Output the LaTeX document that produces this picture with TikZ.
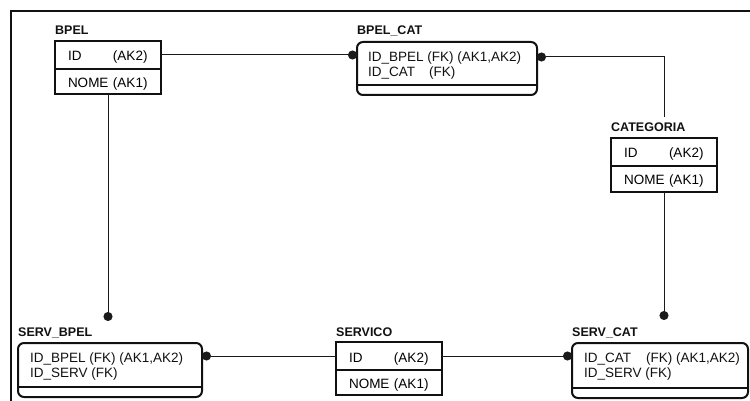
\documentclass[tikz,border=0pt]{standalone}
\usepackage{fontspec}
\setmainfont{Liberation Sans}
\usetikzlibrary{arrows.meta,calc,positioning}
\definecolor{ink}{HTML}{111111}
\definecolor{wire}{HTML}{1A1A1A}
\newcommand\fieldfont{\fontsize{13.5}{15}\selectfont}
\newcommand\titlefont{\fontsize{12.5}{14}\selectfont\bfseries}
\tikzset{
  entrow/.style={draw=ink,line width=2pt,rectangle,outer sep=0pt,inner xsep=13pt,inner ysep=0pt,text width=80pt,text height=12pt,text depth=0pt,align=left,minimum width=106pt,font=\fieldfont,anchor=north west},
  assocbox/.style={draw=ink,line width=2pt,rounded corners=6pt,outer sep=0pt,inner sep=0pt,anchor=north west},
  fieldtxt/.style={inner sep=0pt,align=left,font=\fieldfont,anchor=north west,text=ink},
  titletxt/.style={inner sep=0pt,font=\titlefont,anchor=base west,text=ink},
  wireline/.style={draw=wire,line width=1pt},
  dotend/.style={wireline,-{Circle[length=9pt,width=9pt]}},
  dotstart/.style={wireline,{Circle[length=9pt,width=9pt]}-}
}
\begin{document}
\begin{tikzpicture}[x=1pt,y=-1pt]
  \useasboundingbox (0,0) rectangle (750,401);
  % frame
  \draw[ink,line width=2pt] (10.5,401) |- (750,11);

  % BPEL
  \node[entrow,minimum height=28pt] (bpelid) at (55,41) {\makebox[45pt][l]{ID}(AK2)};
  \node[entrow,minimum height=25pt,below=0pt of bpelid] (bpelnome) {NOME (AK1)};
  \node[titletxt] (bpeltitle) at ($(bpelid.north west)+(0,-6)$) {BPEL};

  % CATEGORIA
  \node[entrow,minimum height=28pt] (catid) at (611,138) {\makebox[45pt][l]{ID}(AK2)};
  \node[entrow,minimum height=26pt,below=0pt of catid] (catnome) {NOME (AK1)};
  \node[titletxt] (cattitle) at ($(catid.north west)+(0,-6)$) {CATEGORIA};

  % SERVICO
  \node[entrow,minimum height=28pt] (servid) at (336,342) {\makebox[45pt][l]{ID}(AK2)};
  \node[entrow,minimum height=25pt,below=0pt of servid] (servnome) {NOME (AK1)};
  \node[titletxt] (servtitle) at ($(servid.north west)+(0,-6)$) {SERVICO};

  % BPEL_CAT
  \node[assocbox,minimum width=180pt,minimum height=53pt] (bpelcat) at (357,42) {};
  \node[fieldtxt] (bpelcattxt) at ($(bpelcat.north west)+(11,10)$)
    {ID\_BPEL (FK) (AK1,AK2)\\\makebox[61pt][l]{ID\_CAT}(FK)};
  \draw[ink,line width=1.5pt] ($(bpelcat.south west)+(0,-10)$) -- ($(bpelcat.south east)+(0,-10)$);
  \node[titletxt] (bpelcattitle) at ($(bpelcat.north west)+(0,-7)$) {BPEL\_CAT};

  % SERV_BPEL
  \node[assocbox,minimum width=184pt,minimum height=54pt] (servbpel) at (18,343) {};
  \node[fieldtxt] (servbpeltxt) at ($(servbpel.north west)+(12,10)$)
    {ID\_BPEL (FK) (AK1,AK2)\\ID\_SERV (FK)};
  \draw[ink,line width=1.5pt] ($(servbpel.south west)+(0,-10)$) -- ($(servbpel.south east)+(0,-10)$);
  \node[titletxt] (servbpeltitle) at ($(servbpel.north west)+(0,-7)$) {SERV\_BPEL};

  % SERV_CAT
  \node[assocbox,minimum width=176pt,minimum height=55pt] (servcat) at (572,343) {};
  \node[fieldtxt] (servcattxt) at ($(servcat.north west)+(12,10)$)
    {\makebox[62pt][l]{ID\_CAT}(FK) (AK1,AK2)\\ID\_SERV (FK)};
  \draw[ink,line width=1.5pt] ($(servcat.south west)+(0,-10)$) -- ($(servcat.south east)+(0,-10)$);
  \node[titletxt] (servcattitle) at ($(servcat.north west)+(0,-7)$) {SERV\_CAT};

  % relationships
  \draw[dotend] (bpelid.east) -- (bpelid.east -| bpelcat.west);
  \draw[dotstart] ($(bpelcat.north east)+(0,15)$) -| ($(catid.north)+(0,-21)$);
  \draw[dotend] (bpelnome.south) -- ($(bpelnome.south |- servbpel.north)+(0,-22)$);
  \draw[dotend] (catnome.south) -- ($(catnome.south |- servcat.north)+(0,-23)$);
  \draw[dotstart] (servid.west -| servbpel.east) -- (servid.west);
  \draw[dotend] (servid.east) -- (servid.east -| servcat.west);
\end{tikzpicture}
\end{document}
